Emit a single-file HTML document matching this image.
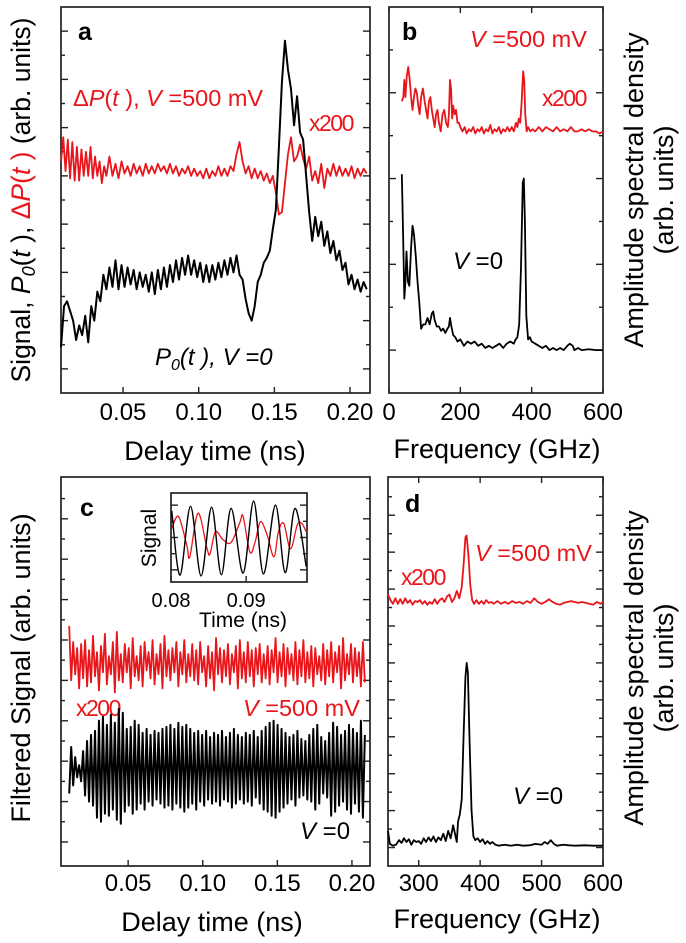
<!DOCTYPE html>
<html><head><meta charset="utf-8"><style>
html,body{margin:0;padding:0;background:#fff;}
svg{display:block;font-family:"Liberation Sans",Arial,sans-serif;}
</style></head><body>
<svg id="fig" width="686" height="943" viewBox="0 0 686 943" xmlns="http://www.w3.org/2000/svg">
<g>
<text x="78" y="40" font-size="25" font-weight="bold">a</text>
<text x="73" y="106" font-size="23.5" fill="#e8161b">Δ<tspan font-style="italic">P</tspan>(<tspan font-style="italic">t</tspan> ), <tspan font-style="italic">V</tspan> =500 mV</text>
<text x="309" y="131" font-size="23" fill="#e8161b" letter-spacing="-1.5">x200</text>
<text x="155" y="365" font-size="24" font-style="italic">P<tspan font-size="16" dy="5">0</tspan><tspan dy="-5">(t ), V =0</tspan></text>
<text transform="translate(30,200) rotate(-90)" text-anchor="middle" font-size="26.5">Signal, <tspan font-style="italic">P</tspan><tspan font-style="italic" font-size="18" dy="5">0</tspan><tspan dy="-5">(</tspan><tspan font-style="italic">t</tspan> ), <tspan fill="#e8161b">Δ<tspan font-style="italic">P</tspan>(<tspan font-style="italic">t</tspan> )</tspan> (arb. units)</text>
<text x="215" y="460" text-anchor="middle" font-size="27">Delay time (ns)</text>
</g>
<g>
<text x="402" y="40" font-size="25" font-weight="bold">b</text>
<text x="470" y="47" font-size="23.5" fill="#e8161b"><tspan font-style="italic">V</tspan> =500 mV</text>
<text x="542" y="106" font-size="23" fill="#e8161b" letter-spacing="-1.5">x200</text>
<text x="453" y="269" font-size="24"><tspan font-style="italic">V</tspan> =0</text>
<text x="497" y="458" text-anchor="middle" font-size="27">Frequency (GHz)</text>
<text transform="translate(643,190) rotate(-90)" text-anchor="middle" font-size="27">Amplitude spectral density</text>
<text transform="translate(673,190) rotate(-90)" text-anchor="middle" font-size="27">(arb. units)</text>
</g>
<g>
<text x="80" y="516" font-size="25" font-weight="bold">c</text>
<text x="76" y="716" font-size="23" fill="#e8161b" letter-spacing="-1.5">x200</text>
<text x="243" y="716" font-size="23.5" fill="#e8161b"><tspan font-style="italic">V</tspan> =500 mV</text>
<text x="300" y="839" font-size="24"><tspan font-style="italic">V</tspan> =0</text>
<text x="212" y="931" text-anchor="middle" font-size="27">Delay time (ns)</text>
<text transform="translate(30,668) rotate(-90)" text-anchor="middle" font-size="27">Filtered Signal (arb. units)</text>
<text transform="translate(156,538) rotate(-90)" text-anchor="middle" font-size="21">Signal</text>
<text x="243" y="627" text-anchor="middle" font-size="21">Time (ns)</text>
</g>
<g>
<text x="405" y="512" font-size="25" font-weight="bold">d</text>
<text x="475" y="561" font-size="23.5" fill="#e8161b"><tspan font-style="italic">V</tspan> =500 mV</text>
<text x="401" y="585" font-size="23" fill="#e8161b" letter-spacing="-1.5">x200</text>
<text x="513" y="804" font-size="24"><tspan font-style="italic">V</tspan> =0</text>
<text x="497" y="928" text-anchor="middle" font-size="27">Frequency (GHz)</text>
<text transform="translate(643,668) rotate(-90)" text-anchor="middle" font-size="27">Amplitude spectral density</text>
<text transform="translate(673,668) rotate(-90)" text-anchor="middle" font-size="27">(arb. units)</text>
</g>
</svg>
<script>
// ---- data ----
const aXTicks=[0.05,0.10,0.15,0.20];
const aXTickLabels=["0.05","0.10","0.15","0.20"];
const aBlack=[[0.009,1.9],[0.011,3.6],[0.013,3.8],[0.015,3.4],[0.017,3.0],[0.019,2.2],[0.021,2.8],[0.023,2.4],[0.025,3.2],[0.027,2.1],[0.029,3.6],[0.031,3.0],[0.033,4.2],[0.035,3.8],[0.037,4.9],[0.039,4.3],[0.041,5.2],[0.043,4.4],[0.045,5.5],[0.047,4.3],[0.049,5.3],[0.051,4.4],[0.053,5.2],[0.055,4.5],[0.057,5.1],[0.059,4.3],[0.061,5.0],[0.063,4.4],[0.065,4.9],[0.067,4.2],[0.069,5.0],[0.071,4.1],[0.073,5.1],[0.075,4.3],[0.077,5.2],[0.079,4.4],[0.081,5.3],[0.083,4.6],[0.085,5.5],[0.087,4.7],[0.089,5.6],[0.091,4.9],[0.093,5.7],[0.095,4.9],[0.097,5.5],[0.099,4.8],[0.101,5.4],[0.103,4.6],[0.105,5.3],[0.107,4.6],[0.109,5.3],[0.111,4.7],[0.113,5.4],[0.115,4.8],[0.117,5.5],[0.119,4.9],[0.121,5.6],[0.123,5.0],[0.125,5.7],[0.127,4.9],[0.129,4.7],[0.131,3.9],[0.133,3.3],[0.135,3.0],[0.137,3.6],[0.139,4.6],[0.141,4.9],[0.143,5.4],[0.145,5.6],[0.147,5.9],[0.149,6.8],[0.151,7.6],[0.153,10.2],[0.155,12.9],[0.157,14.6],[0.159,13.4],[0.161,12.6],[0.163,11.1],[0.165,12.3],[0.167,10.8],[0.169,10.5],[0.171,9.0],[0.173,7.5],[0.175,6.3],[0.177,7.3],[0.179,6.5],[0.181,7.1],[0.183,6.1],[0.185,6.7],[0.187,5.8],[0.189,6.3],[0.191,5.5],[0.193,5.9],[0.195,5.1],[0.197,5.4],[0.199,4.5],[0.201,4.9],[0.203,4.3],[0.205,4.7],[0.207,4.2],[0.209,4.6],[0.211,4.3]];
const aRed=[[0.009,9.6],[0.0105,10.6],[0.012,9.2],[0.0135,10.5],[0.015,8.9],[0.0165,10.4],[0.018,8.8],[0.0195,10.2],[0.021,8.8],[0.0225,10.1],[0.024,9.0],[0.0255,10.0],[0.027,9.0],[0.0285,10.2],[0.030,8.9],[0.0315,9.8],[0.033,9.0],[0.0345,9.6],[0.036,8.7],[0.0375,9.4],[0.039,9.0],[0.041,9.8],[0.043,9.0],[0.045,9.5],[0.047,8.9],[0.049,9.6],[0.051,9.1],[0.053,9.4],[0.055,9.0],[0.057,9.5],[0.059,9.1],[0.061,9.4],[0.063,9.0],[0.065,9.5],[0.067,9.1],[0.069,9.4],[0.071,9.1],[0.073,9.5],[0.075,9.2],[0.077,9.4],[0.079,9.1],[0.081,9.5],[0.083,9.1],[0.085,9.4],[0.087,9.0],[0.089,9.3],[0.091,9.1],[0.093,9.4],[0.095,9.0],[0.097,9.3],[0.099,9.0],[0.101,9.2],[0.103,8.9],[0.105,9.3],[0.107,8.9],[0.109,9.2],[0.111,9.0],[0.113,9.4],[0.115,9.0],[0.117,9.3],[0.119,9.0],[0.121,9.4],[0.123,9.2],[0.125,9.9],[0.127,10.4],[0.129,9.6],[0.131,9.1],[0.133,9.4],[0.135,8.9],[0.137,9.3],[0.139,8.9],[0.141,9.2],[0.143,8.8],[0.145,9.1],[0.147,8.7],[0.149,9.0],[0.151,8.3],[0.153,7.4],[0.155,7.5],[0.157,8.7],[0.159,9.9],[0.161,10.6],[0.163,9.6],[0.165,9.8],[0.167,10.3],[0.169,9.7],[0.171,9.3],[0.173,9.8],[0.175,8.8],[0.177,9.2],[0.179,8.7],[0.181,9.5],[0.183,8.5],[0.185,9.3],[0.187,9.0],[0.189,9.5],[0.191,9.0],[0.193,9.4],[0.195,9.0],[0.197,9.3],[0.199,9.0],[0.201,9.4],[0.203,8.9],[0.205,9.3],[0.207,9.0],[0.209,9.3],[0.211,9.1]];
const bXTicks=[0,200,400,600];
const bXTickLabels=["0","200","400","600"];
const bBlack=[[36,5.1],[40,3.5],[43,2.2],[46,2.6],[49,3.3],[53,2.6],[57,2.5],[62,3.4],[66,3.9],[70,3.7],[75,3.2],[80,2.6],[85,2.1],[90,1.5],[96,1.6],[102,1.6],[108,1.75],[114,1.6],[120,1.85],[124,1.9],[128,1.7],[134,1.55],[140,1.55],[146,1.45],[152,1.5],[158,1.4],[164,1.5],[168,1.55],[171,1.75],[175,1.55],[180,1.35],[186,1.3],[192,1.2],[200,1.25],[210,1.1],[220,1.2],[230,1.15],[240,1.2],[250,1.1],[260,1.15],[270,1.05],[280,1.1],[290,1.05],[300,1.1],[310,1.15],[320,1.05],[330,1.15],[340,1.2],[350,1.15],[355,1.25],[360,1.3],[365,1.6],[370,2.9],[375,4.9],[378,5.0],[381,4.0],[385,1.8],[390,1.25],[395,1.3],[400,1.2],[410,1.15],[420,1.1],[430,1.05],[440,1.1],[450,1.0],[460,1.05],[470,1.0],[480,1.05],[490,1.0],[500,1.1],[507,1.15],[515,1.1],[520,1.0],[530,1.05],[540,1.0],[560,1.02],[580,1.0],[600,1.0]];
const bRed=[[36,6.8],[40,6.9],[43,7.3],[46,6.9],[50,7.4],[54,7.6],[58,7.3],[62,6.9],[66,6.6],[70,6.9],[74,7.1],[78,7.0],[82,6.7],[86,6.5],[90,6.9],[95,7.1],[100,6.8],[104,6.6],[108,6.4],[112,6.8],[116,6.9],[120,6.6],[124,6.4],[128,6.2],[132,6.5],[136,6.6],[140,6.3],[145,6.1],[150,6.5],[155,6.6],[160,6.3],[165,6.2],[168,6.5],[171,7.3],[174,7.1],[177,6.4],[180,6.7],[184,6.5],[188,6.6],[192,6.3],[196,6.3],[200,6.2],[206,6.1],[212,6.2],[218,6.05],[224,6.15],[230,6.1],[236,6.2],[242,6.05],[248,6.15],[254,6.1],[260,6.2],[266,6.05],[272,6.15],[278,6.1],[284,6.25],[290,6.05],[296,6.15],[302,6.1],[308,6.2],[314,6.05],[320,6.15],[326,6.1],[332,6.2],[338,6.1],[344,6.2],[350,6.1],[356,6.3],[360,6.2],[364,6.4],[368,6.3],[372,6.8],[376,7.5],[379,7.3],[382,6.5],[386,6.1],[390,6.2],[396,6.1],[402,6.15],[410,6.1],[420,6.2],[430,6.1],[440,6.2],[450,6.15],[460,6.1],[470,6.2],[480,6.1],[490,6.15],[500,6.1],[510,6.2],[520,6.1],[530,6.1],[540,6.15],[550,6.1],[560,6.15],[570,6.1],[580,6.1],[590,6.05],[600,6.1]];
const cXTicks=[0.05,0.10,0.15,0.20];
const cXTickLabels=["0.05","0.10","0.15","0.20"];
const cTimeStart=0.0105;
const cTimeStep=0.00133;
const cBlack=[2.4,4.7,2.8,4.2,3.2,3.8,3.0,4.5,2.3,5.0,2.0,5.3,1.8,5.5,1.2,6.0,1.0,6.2,1.4,5.8,1.3,6.3,1.6,5.9,1.1,6.6,0.9,6.4,1.5,5.6,1.8,5.7,1.4,6.0,1.6,5.8,1.9,5.4,1.6,5.6,2.0,5.3,1.8,5.5,2.1,5.4,1.9,5.6,1.7,5.7,1.8,5.8,1.6,5.6,1.9,5.9,1.7,5.7,1.5,5.8,1.7,5.6,1.9,5.4,1.6,5.5,2.0,5.3,1.8,5.5,2.1,5.2,1.9,5.4,2.0,5.3,1.8,5.5,2.1,5.2,2.0,5.4,1.7,5.6,1.9,5.3,2.1,5.2,1.9,5.4,2.0,5.3,1.8,5.5,2.2,5.2,1.9,5.5,1.6,5.7,1.5,5.9,1.3,6.0,1.2,5.8,1.5,5.6,1.7,5.4,1.9,5.2,2.1,5.3,1.8,5.5,2.2,5.1,2.3,5.0,2.1,5.3,2.0,5.6,1.6,5.8,1.9,5.2,2.4,5.0,2.2,5.4,1.3,5.9,1.5,5.7,1.8,5.3,2.0,5.5,1.6,5.8,1.4,5.6,1.9,5.4,1.5,6.0,1.2,5.3];
const cRed=[10.7,8.0,9.9,8.3,9.6,7.6,9.8,8.1,10.0,7.7,9.5,7.9,10.2,8.2,9.4,7.5,9.7,8.4,10.3,7.8,9.2,8.3,9.9,7.4,10.4,8.0,9.3,7.9,9.8,8.4,9.6,7.6,10.1,8.2,9.2,8.0,9.7,7.7,9.9,8.5,9.4,8.1,10.0,7.8,9.3,8.3,9.8,7.6,10.2,8.2,9.5,8.0,9.6,8.4,9.9,7.7,9.4,8.3,10.0,7.9,9.3,8.2,9.8,8.0,9.5,7.8,9.9,8.4,9.2,7.7,9.7,8.1,9.4,7.5,10.1,8.3,9.6,7.9,9.5,8.2,9.8,7.8,9.3,8.4,9.7,7.6,10.0,8.1,9.4,7.9,9.9,8.2,9.5,7.7,9.6,8.3,9.8,7.9,9.3,8.1,9.7,7.8,9.5,8.4,10.1,7.9,9.4,8.2,9.8,7.7,9.6,8.3,9.3,8.0,9.9,7.8,9.5,8.2,10.0,7.9,9.4,8.1,9.7,7.7,9.6,8.3,9.2,8.0,9.8,7.8,9.5,8.2,9.9,7.9,9.4,8.4,9.7,7.6,10.1,8.0,9.3,8.3,9.8,7.9,9.6,8.2,9.4,7.7,9.9,7.9];
const insetXTicks=[0.08,0.09];
const insetXTickLabels=["0.08","0.09"];
const insetBlackT=[0.0801,0.0812,0.0826,0.0840,0.0854,0.0867,0.0880,0.0896,0.0910,0.0923,0.0939,0.0952,0.0965,0.0980];
const insetBlackV=[0.66,-0.93,0.77,-0.95,0.75,-0.92,0.72,-0.88,0.9,-0.9,0.8,-0.87,0.72,-0.72];
const insetRedT=[0.0801,0.0810,0.0821,0.0825,0.0836,0.0848,0.0852,0.0859,0.0868,0.0877,0.0883,0.0892,0.0896,0.0905,0.0912,0.0919,0.0928,0.0937,0.0943,0.0950,0.0959,0.0968,0.0974,0.0980];
const insetRedV=[0.22,0.52,-0.19,-0.48,0.6,-0.28,-0.4,0.14,-0.03,-0.15,-0.03,0.39,0.52,-0.36,-0.11,0.39,0.06,-0.48,0.14,0.35,-0.28,0.31,0.35,0.14];
const dXTicks=[300,400,500,600];
const dXTickLabels=["300","400","500","600"];
const dBlack=[[250,1.9],[253,1.2],[258,1.1],[263,1.15],[268,1.4],[272,1.25],[276,1.5],[280,1.3],[284,1.45],[288,1.15],[292,1.4],[296,1.3],[300,1.35],[304,1.2],[308,1.5],[312,1.3],[316,1.55],[320,1.35],[324,1.6],[328,1.3],[332,1.55],[336,1.4],[340,1.75],[344,1.35],[348,1.9],[352,1.5],[356,2.2],[360,1.6],[362,1.3],[364,2.4],[367,2.8],[370,3.6],[373,7.0],[376,10.2],[378,11.0],[380,10.5],[383,6.5],[386,3.0],[389,1.6],[392,1.4],[396,1.5],[400,1.3],[404,1.45],[408,1.2],[412,1.35],[416,1.2],[420,1.3],[425,1.15],[430,1.1],[440,1.15],[450,1.1],[460,1.15],[470,1.1],[480,1.12],[490,1.2],[500,1.15],[505,1.3],[510,1.2],[515,1.4],[520,1.2],[525,1.1],[535,1.15],[545,1.12],[555,1.1],[570,1.12],[585,1.1],[600,1.1]];
const dRed=[[250,14.7],[254,14.4],[258,14.2],[262,14.5],[266,14.2],[270,14.45],[274,14.2],[278,14.5],[282,14.25],[286,14.4],[290,14.15],[294,14.35],[298,14.3],[302,14.4],[306,14.2],[310,14.35],[314,14.15],[318,14.3],[322,14.2],[326,14.45],[330,14.2],[334,14.4],[338,14.5],[342,14.3],[346,14.6],[350,14.7],[354,14.3],[358,14.5],[362,14.9],[366,14.5],[370,15.1],[373,16.3],[376,17.8],[378,17.9],[381,16.8],[384,15.2],[387,14.4],[390,14.2],[394,14.4],[398,14.2],[402,14.35],[406,14.2],[410,14.4],[414,14.25],[418,14.3],[422,14.2],[428,14.35],[434,14.2],[440,14.3],[446,14.2],[452,14.35],[458,14.25],[464,14.3],[470,14.2],[476,14.35],[482,14.25],[488,14.5],[494,14.3],[500,14.2],[506,14.3],[512,14.45],[518,14.3],[524,14.2],[530,14.15],[536,14.25],[542,14.3],[548,14.35],[554,14.3],[560,14.25],[566,14.3],[572,14.25],[578,14.2],[584,14.15],[590,14.3],[596,14.2],[600,14.3]];

// ---- drawing ----
const NS="http://www.w3.org/2000/svg";
const svg=document.getElementById('fig');
function mk(tag,attrs,parent){const e=document.createElementNS(NS,tag);for(const k in attrs)e.setAttribute(k,attrs[k]);(parent||svg).appendChild(e);return e;}
function scale(d0,d1,p0,p1){return v=>p0+(v-d0)/(d1-d0)*(p1-p0);}
const RED="#e8161b";

function panel(name,px0,px1,py0,py1,xd,yd,yTicks,xTicks,xLabels,topTicks,labelY,fs){
  const g=mk('g',{});
  
  
  const X=scale(xd[0],xd[1],px0,px1), Y=scale(yd[0],yd[1],py1,py0);
  yTicks.forEach((v,i)=>{const y=Y(v);const L=(i%2===0)?7:4;
    const t1=mk('line',{x1:px0,x2:px0+L,y1:y,y2:y,stroke:'#222','stroke-width':1.4},g);
    
    
    const t2=mk('line',{x1:px1,x2:px1-L,y1:y,y2:y,stroke:'#222','stroke-width':1.4},g);
    
    });
  xTicks.forEach((v,i)=>{const x=X(v);
    const t=mk('line',{x1:x,x2:x,y1:py1,y2:py1-6,stroke:'#222','stroke-width':1.4},g);
    
    
    if(topTicks){const tt=mk('line',{x1:x,x2:x,y1:py0,y2:py0+6,stroke:'#222','stroke-width':1.4},g);
      
      }
    const lb=mk('text',{x:x,y:labelY,'text-anchor':'middle','font-size':fs},g);
    lb.textContent=xLabels[i];
    
    });
  const fr=mk('rect',{x:px0,y:py0,width:px1-px0,height:py1-py0,fill:'none',stroke:'#222','stroke-width':1.7},g);
  
  
  return {g,X,Y};
}
function line(p,pts,color,w,nm){
  const d=pts.map((q,i)=>(i?'L':'M')+p.X(q[0]).toFixed(2)+','+p.Y(q[1]).toFixed(2)).join('');
  const e=mk('path',{d:d,fill:'none',stroke:color,'stroke-width':w,'stroke-linejoin':'round'},p.g);
  
  
}
function smooth(p,ts,vs,color,w,nm){
  const P=ts.map((t,i)=>[p.X(t),p.Y(vs[i])]);
  let d='M'+P[0][0]+','+P[0][1];
  for(let i=0;i<P.length-1;i++){const p0=P[i-1]||P[i],p1=P[i],p2=P[i+1],p3=P[i+2]||P[i+1];
    d+='C'+(p1[0]+(p2[0]-p0[0])/6)+','+(p1[1]+(p2[1]-p0[1])/6)+' '+(p2[0]-(p3[0]-p1[0])/6)+','+(p2[1]-(p3[1]-p1[1])/6)+' '+p2[0]+','+p2[1];}
  const e=mk('path',{d:d,fill:'none',stroke:color,'stroke-width':w},p.g);
  
  
}
const intT=n=>Array.from({length:n},(_,i)=>i);
// panel a
const pa=panel('panel-a',61,370,7,393,[0.009,0.2132],[0,16],intT(16).slice(1),aXTicks,aXTickLabels,false,420,24);
line(pa,aRed,RED,1.8,'panel-a-delta-p-line');
line(pa,aBlack,'#000',2,'panel-a-p0-line');
// panel b
const pb=panel('panel-b',389,603,7,393,[0,600],[0,9],intT(9).slice(1),bXTicks,bXTickLabels,true,420,24);
line(pb,bRed,RED,1.8,'panel-b-red-spectrum');
line(pb,bBlack,'#000',1.8,'panel-b-black-spectrum');
// panel c
const pc=panel('panel-c',61,370,477,866,[0.005,0.2121],[-1.19,18.07],intT(18),cXTicks,cXTickLabels,false,891,24);
line(pc,cRed.map((v,i)=>[cTimeStart+i*cTimeStep,v]),RED,1.8,'panel-c-red-filtered');
line(pc,cBlack.map((v,i)=>[cTimeStart+i*cTimeStep,v]),'#000',2,'panel-c-black-filtered');
// inset
const pi=panel('inset',171,307,493,582,[0.08,0.0981],[-1.1,1.1],[-0.8,-0.4,0,0.4,0.8],insetXTicks,insetXTickLabels,false,607,20);
smooth(pi,insetRedT,insetRedV,RED,1.3,'inset-red-line');
smooth(pi,insetBlackT,insetBlackV,'#000',1.4,'inset-black-line');
// panel d
const pd=panel('panel-d',388,603,477,866,[250,600],[0,21.07],intT(21).slice(1),dXTicks,dXTickLabels,true,891,24);
line(pd,dRed,RED,1.8,'panel-d-red-spectrum');
line(pd,dBlack,'#000',1.8,'panel-d-black-spectrum');
</script>
</body></html>
